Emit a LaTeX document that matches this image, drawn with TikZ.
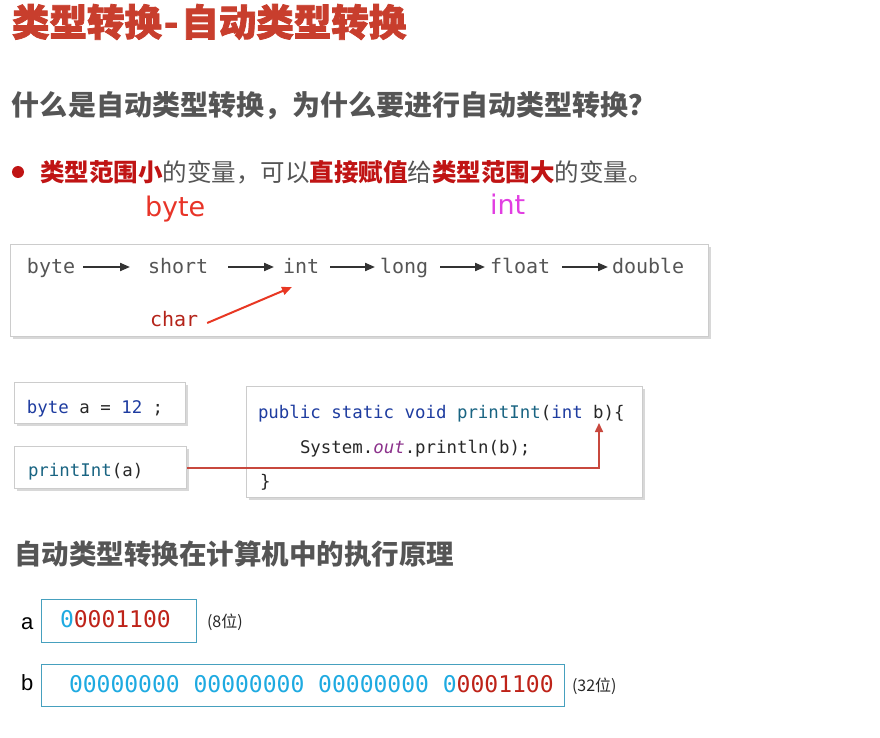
\documentclass[tikz,border=0pt]{standalone}
\usepackage{fontspec}
\setmainfont{Liberation Sans}
\setmonofont{DejaVu Sans Mono}
\newfontfamily\cjk{Noto Sans CJK SC}
\newfontfamily\cjkheavy{Noto Sans CJK SC}[BoldFeatures={FakeBold=2}]
\newfontfamily\hand{DejaVu Sans}
\usetikzlibrary{arrows.meta,shadows,calc}
\definecolor{titlered}{RGB}{200,62,45}
\definecolor{hgray}{RGB}{85,85,85}
\definecolor{boldred}{RGB}{192,20,20}
\definecolor{handred}{RGB}{232,52,40}
\definecolor{handmag}{RGB}{226,62,226}
\definecolor{chared}{RGB}{180,35,25}
\definecolor{arrred}{RGB}{232,55,35}
\definecolor{kw}{RGB}{30,60,160}
\definecolor{fn}{RGB}{25,100,130}
\definecolor{purp}{RGB}{140,50,140}
\definecolor{connred}{RGB}{200,72,62}
\definecolor{binblue}{RGB}{30,170,225}
\definecolor{binred}{RGB}{190,35,25}
\definecolor{binbox}{RGB}{70,160,190}
\definecolor{codetxt}{RGB}{40,40,40}
\newcommand\setfs[1]{\fontsize{#1}{#1}\selectfont}
\tikzset{
  txt/.style={inner sep=0pt, outer sep=0pt},
  panel/.style={draw=gray!40, line width=1.4pt, fill=white, anchor=north west,
    drop shadow={opacity=0.3, shadow xshift=2pt, shadow yshift=-2pt}},
  binpanel/.style={draw=binbox, line width=1.2pt, fill=white, anchor=north west},
  typetxt/.style={txt, anchor=base west, font=\ttfamily\setfs{20}, text=hgray},
  codetxt/.style={txt, anchor=base west, font=\ttfamily\setfs{17.4}, text=codetxt},
  bintxt/.style={txt, anchor=base west, font=\ttfamily\setfs{23}},
  darr/.style={-{Triangle[length=10pt,width=8pt]}, line width=2pt, draw=black!80},
}
\begin{document}
\begin{tikzpicture}[x=1pt,y=-1pt]
\useasboundingbox (0,0) rectangle (880,738);
\fill[white] (0,0) rectangle (880,738);

% title
\node[txt, anchor=west, text=titlered, font=\cjkheavy\bfseries\setfs{37.5}] (title) at (12,22) {类型转换\kern2pt-\kern3pt自动类型转换};
\node[txt, anchor=west, text=hgray, font=\cjk\bfseries\setfs{28}] (q) at (12,106) {什么是自动类型转换，为什么要进行自动类型转换？};

% bullet
\fill[boldred] (18,172) circle (6);
\node[txt, anchor=west, text=hgray, font=\cjk\setfs{24.5}] (bul) at (40,172)
  {{\bfseries\color{boldred}类型范围小}的变量，可以{\bfseries\color{boldred}直接赋值}给{\bfseries\color{boldred}类型范围大}的变量。};
\node[txt, anchor=base west, text=handred, font=\hand\setfs{27}] (hbyte) at (145,216) {byte};
\node[txt, anchor=base west, text=handmag, font=\hand\setfs{27}] (hint) at (490,214) {int};

% type chain panel
\node[panel, minimum width=698pt, minimum height=92pt] (typebox) at (10,244) {};
\node[typetxt] (tbyte) at (27,273) {byte};
\node[typetxt] (tshort) at (148,273) {short};
\node[typetxt] (tint) at (283,273) {int};
\node[typetxt] (tlong) at (380,273) {long};
\node[typetxt] (tfloat) at (490,273) {float};
\node[typetxt] (tdouble) at (612,273) {double};
\node[typetxt, text=chared] (tchar) at (150,326) {char};
\draw[darr, shorten <=8pt, shorten >=18pt] ([yshift=6pt]tbyte.base east) -- ([yshift=6pt]tshort.base west);
\draw[darr, shorten <=20pt, shorten >=9pt] ([yshift=6pt]tshort.base east) -- ([yshift=6pt]tint.base west);
\draw[darr, shorten <=11pt, shorten >=5pt] ([yshift=6pt]tint.base east) -- ([yshift=6pt]tlong.base west);
\draw[darr, shorten <=12pt, shorten >=5pt] ([yshift=6pt]tlong.base east) -- ([yshift=6pt]tfloat.base west);
\draw[darr, shorten <=12pt, shorten >=4pt] ([yshift=6pt]tfloat.base east) -- ([yshift=6pt]tdouble.base west);
\draw[-{Triangle[length=10pt,width=8pt]}, line width=2pt, draw=arrred]
  ([xshift=9pt,yshift=3pt]tchar.base east) -- ([xshift=9pt,yshift=-14pt]tint.base west);

% code panels
\node[panel, minimum width=171pt, minimum height=41pt] (abox) at (14,382) {};
\node[panel, minimum width=172pt, minimum height=42pt] (pbox) at (14,446) {};
\node[panel, minimum width=396pt, minimum height=111pt] (cbox) at (246,386) {};
\node[codetxt] (adecl) at (27,413) {\textcolor{kw}{byte} a = \textcolor{kw}{12} ;};
\node[codetxt] (pcall) at (28,476) {\textcolor{fn}{printInt}(a)};
\node[codetxt] (c1) at (258,418) {\textcolor{kw}{public static void} \textcolor{fn}{printInt}(\textcolor{kw}{int} b)\{};
\node[codetxt] (c2) at (300,453) {System.\textcolor{purp}{\itshape out}.println(b);};
\node[codetxt] (c3) at (260,487) {\}};
\coordinate (bparam) at (599,423);
\draw[-{Triangle[length=9pt,width=8pt]}, line width=1.6pt, draw=connred] (pbox.east) -| (bparam);

% heading 3
\node[txt, anchor=west, text=hgray, font=\cjk\bfseries\setfs{27.5}] (h3) at (14,554) {自动类型转换在计算机中的执行原理};

% binary
\node[txt, anchor=base west, font=\setfs{22}] (la) at (21,629) {a};
\node[txt, anchor=base west, font=\setfs{22}] (lb) at (21,690) {b};
\node[binpanel, minimum width=155pt, minimum height=43pt] (bina) at (41,599) {};
\node[binpanel, minimum width=523pt, minimum height=42pt] (binb) at (41,664) {};
\node[bintxt] (va) at (60,627) {\textcolor{binblue}{0}\textcolor{binred}{0001100}};
\node[bintxt] (vb) at (69,692) {\textcolor{binblue}{00000000 00000000 00000000 0}\textcolor{binred}{0001100}};
\node[txt, anchor=west, text=codetxt, font=\cjk\setfs{16}] (na) at (207,622) {(8位)};
\node[txt, anchor=west, text=codetxt, font=\cjk\setfs{16}] (nb) at (572,686) {(32位)};
\end{tikzpicture}
\end{document}
